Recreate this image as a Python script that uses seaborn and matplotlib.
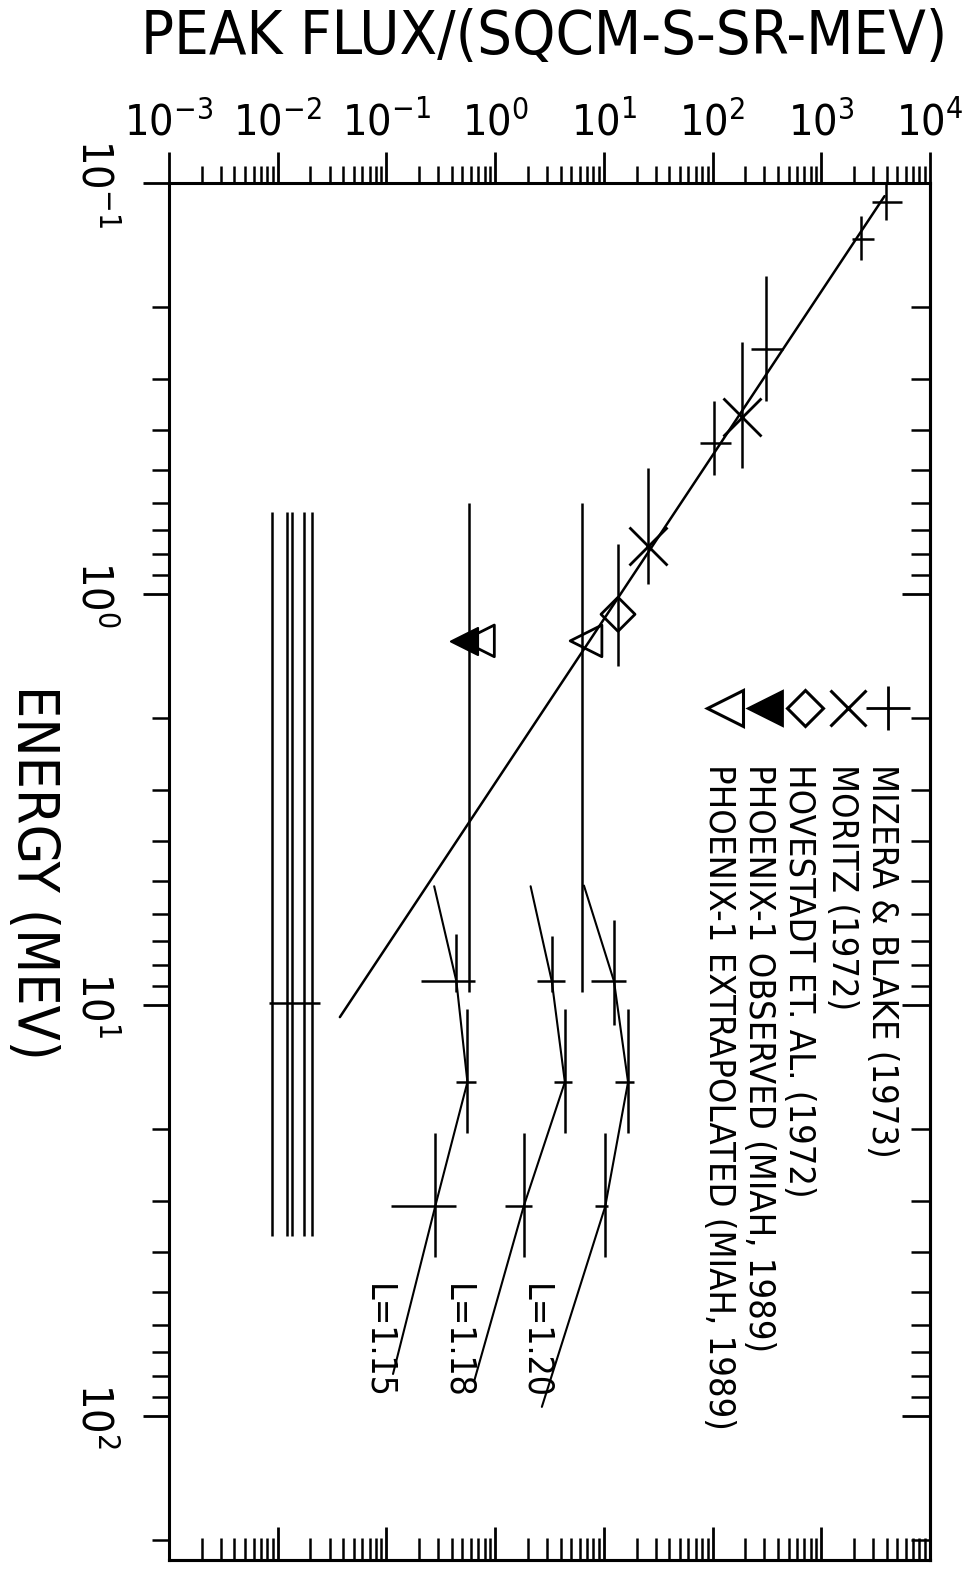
import numpy as np
import pandas as pd
import matplotlib
matplotlib.use("Agg")
import matplotlib.pyplot as plt
import seaborn as sns
from matplotlib.ticker import LogLocator, NullFormatter

# ---- data (flux = x, energy = y) ----
# power-law fit line
fit_flux = [3820, 0.0373]
fit_energy = [0.1076, 10.7]

# Mizera & Blake (1973)
mb_flux = [3970, 2330, 309, 104]
mb_flux_lo = [2950, 1930, 224, 75.9]
mb_flux_hi = [5580, 3070, 443, 147]
mb_energy = [0.111, 0.137, 0.254, 0.430]
mb_energy_lo = [0.100, 0.120, 0.168, 0.340]
mb_energy_hi = [0.123, 0.154, 0.340, 0.514]

# Moritz (1972)
mo_flux = [185, 25.6]
mo_energy = [0.370, 0.764]
mo_energy_lo = [0.243, 0.494]
mo_energy_hi = [0.494, 0.946]

# Hovestadt et al. (1972)
hv_flux = [13.5]
hv_energy = [1.12]
hv_energy_lo = [0.757]
hv_energy_hi = [1.50]

# Phoenix-1
ph_obs_flux = [0.521]
ph_obs_energy = [1.30]
ph_ext_flux = [0.703, 6.86]
ph_ext_energy = [1.30, 1.30]
ph_range_flux = [0.58, 6.3]
ph_range_energy = [0.60, 9.3]

# band of upper limits at low flux
band_flux = [0.00895, 0.0123, 0.0134, 0.0173, 0.0205]
band_energy = [0.632, 36.4]
band_bar_energy = 9.9
band_bar_flux = [0.0084, 0.0243]

# L-shell curves
shell_labels = ["L=1.15", "L=1.18", "L=1.20"]
curve_flux = [
    [0.275, 0.44, 0.556, 0.281, 0.115],
    [2.12, 3.32, 4.38, 1.83, 0.645],
    [6.56, 12.4, 16.7, 10.3, 2.69],
]
curve_energy = [
    [5.14, 8.75, 15.4, 30.9, 79],
    [5.14, 8.75, 15.4, 30.9, 81.8],
    [5.12, 8.75, 15.4, 30.9, 95],
]
shell_energy = [8.75, 15.4, 30.9]
shell_energy_lo = [[6.7, 10.2, 20.5], [6.8, 10.2, 20.5], [6.2, 10.2, 20.5]]
shell_energy_hi = [[9.3, 20.5, 41], [9.3, 20.5, 41], [11.2, 20.5, 41]]
shell_flux = [[0.44, 0.556, 0.281], [3.32, 4.38, 1.83], [12.4, 16.7, 10.3]]
shell_flux_lo = [[0.209, 0.44, 0.110], [2.41, 3.47, 1.22], [7.6, 12.7, 8.3]]
shell_flux_hi = [[0.646, 0.66, 0.44], [4.38, 5.08, 2.17], [16.0, 18.9, 10.9]]
shell_label_flux = [0.0835, 0.449, 2.36]
shell_label_energy = 66

legend_labels = [
    "MIZERA & BLAKE (1973)",
    "MORITZ (1972)",
    "HOVESTADT ET. AL. (1972)",
    "PHOENIX-1 OBSERVED (MIAH, 1989)",
    "PHOENIX-1 EXTRAPOLATED (MIAH, 1989)",
]

sns.set_style("ticks")
plt.rcParams["font.family"] = ["DejaVu Sans"]
plt.rcParams["font.stretch"] = "condensed"
plt.rcParams["mathtext.fontset"] = "dejavusans"
plt.rcParams["axes.linewidth"] = 2.2
for k in ["text.color", "axes.labelcolor", "xtick.color", "ytick.color",
          "axes.edgecolor"]:
    plt.rcParams[k] = "black"

LW = 1.8


def asym(center, lo, hi):
    c = np.array(center, dtype=float)
    return [c - np.array(lo, dtype=float), np.array(hi, dtype=float) - c]


def log_ticks(axis):
    axis.set_major_locator(LogLocator(base=10, numticks=30))
    axis.set_minor_locator(LogLocator(base=10, subs=np.arange(2, 10), numticks=100))
    axis.set_minor_formatter(NullFormatter())


fig, ax = plt.subplots(figsize=(9.63, 15.74), dpi=100)
fig.subplots_adjust(left=0.1755, right=0.9657, top=0.8837, bottom=0.0089)
ax.set_xscale("log")
ax.set_yscale("log")

# fit line
sns.lineplot(x=fit_flux, y=fit_energy, sort=False, estimator=None,
             color="black", linewidth=LW, ax=ax)

# Mizera & Blake crosses
ax.errorbar(mb_flux, mb_energy,
            xerr=asym(mb_flux, mb_flux_lo, mb_flux_hi),
            yerr=asym(mb_energy, mb_energy_lo, mb_energy_hi),
            fmt="none", ecolor="black", elinewidth=LW, capsize=0)

# Moritz
ax.errorbar(mo_flux, mo_energy, yerr=asym(mo_energy, mo_energy_lo, mo_energy_hi),
            fmt="none", ecolor="black", elinewidth=LW, capsize=0)
sns.scatterplot(x=mo_flux, y=mo_energy, marker="x", s=750, color="black",
                linewidth=2.0, ax=ax)

# Hovestadt
ax.errorbar(hv_flux, hv_energy, yerr=asym(hv_energy, hv_energy_lo, hv_energy_hi),
            fmt="none", ecolor="black", elinewidth=LW, capsize=0)
sns.scatterplot(x=hv_flux, y=hv_energy, marker="D", s=300, facecolor="none",
                edgecolor="black", linewidth=2.0, ax=ax)

# Phoenix-1
ax.vlines(ph_range_flux, ph_range_energy[0], ph_range_energy[1],
          color="black", linewidth=LW)
sns.scatterplot(x=ph_ext_flux, y=ph_ext_energy, marker="<", s=520,
                facecolor="none", edgecolor="black", linewidth=2.0, ax=ax)
sns.scatterplot(x=ph_obs_flux, y=ph_obs_energy, marker="<", s=380,
                color="black", edgecolor="black", linewidth=1.5, ax=ax)

# low flux band
ax.vlines(band_flux, band_energy[0], band_energy[1], color="black", linewidth=LW)
ax.hlines(band_bar_energy, band_bar_flux[0], band_bar_flux[1],
          color="black", linewidth=LW)

# L-shell curves
for i, lab in enumerate(shell_labels):
    sns.lineplot(x=curve_flux[i], y=curve_energy[i], sort=False, estimator=None,
                 color="black", linewidth=1.5, ax=ax)
    ax.errorbar(shell_flux[i], shell_energy,
                xerr=asym(shell_flux[i], shell_flux_lo[i], shell_flux_hi[i]),
                yerr=asym(shell_energy, shell_energy_lo[i], shell_energy_hi[i]),
                fmt="none", ecolor="black", elinewidth=LW, capsize=0)
    ax.text(shell_label_flux[i], shell_label_energy, lab, rotation=-90,
            ha="center", va="center", fontsize=25.5)

ax.set_xlim(1e-3, 1e4)
ax.set_ylim(224, 0.1)
log_ticks(ax.xaxis)
log_ticks(ax.yaxis)

# ticks: top/left outward, bottom/right inward
ax.xaxis.set_ticks_position("top")
ax.tick_params(axis="x", which="major", direction="out", length=22, width=2.0,
               labelsize=31, pad=6, top=True, bottom=False, labeltop=True,
               labelbottom=False)
ax.tick_params(axis="x", which="minor", direction="out", length=12, width=1.8,
               top=True, bottom=False)
ax.tick_params(axis="y", which="major", direction="out", length=19, width=2.0,
               labelsize=31, pad=20, labelrotation=-90, left=True, right=False)
ax.tick_params(axis="y", which="minor", direction="out", length=12, width=1.8,
               left=True, right=False)
for t in ax.get_yticklabels():
    t.set_va("center")

sec_x = ax.secondary_xaxis("bottom")
log_ticks(sec_x.xaxis)
sec_x.tick_params(axis="x", which="major", direction="in", length=24, width=2.0,
                  labelbottom=False)
sec_x.tick_params(axis="x", which="minor", direction="in", length=16, width=1.8)
sec_x.set_xticklabels([])
sec_y = ax.secondary_yaxis("right")
log_ticks(sec_y.yaxis)
sec_y.tick_params(axis="y", which="major", direction="in", length=20, width=2.0,
                  labelright=False)
sec_y.tick_params(axis="y", which="minor", direction="in", length=14, width=1.8)
sec_y.set_yticklabels([])
for s in (sec_x, sec_y):
    for sp in s.spines.values():
        sp.set_linewidth(2.2)

# legend drawn by hand, rotated like the rest of the page
leg_x = [0.945, 0.892, 0.836, 0.783, 0.731]
leg_y = 0.619
ax.plot(leg_x[0], leg_y, marker="+", ms=32, mew=2.0, color="black",
        transform=ax.transAxes, clip_on=False)
ax.plot(leg_x[1], leg_y, marker="x", ms=26, mew=2.2, color="black",
        transform=ax.transAxes, clip_on=False)
ax.plot(leg_x[2], leg_y, marker="D", ms=18, mew=2.2, mfc="none", color="black",
        transform=ax.transAxes, clip_on=False)
ax.plot(leg_x[3], leg_y, marker="<", ms=24, mew=2.0, mfc="black", color="black",
        transform=ax.transAxes, clip_on=False)
ax.plot(leg_x[4], leg_y, marker="<", ms=26, mew=2.2, mfc="none", color="black",
        transform=ax.transAxes, clip_on=False)
for xx, lab in zip(leg_x, legend_labels):
    ax.text(xx - 0.008, 0.578, lab, rotation=-90, ha="center", va="top",
            fontsize=26, transform=ax.transAxes)

fig.text(0.565, 0.976, "PEAK FLUX/(SQCM-S-SR-MEV)", ha="center", va="center",
         fontsize=44)
fig.text(0.034, 0.446, "ENERGY (MEV)", rotation=-90, ha="center", va="center",
         fontsize=41)

fig.savefig("out.png", dpi=100, facecolor="white")
